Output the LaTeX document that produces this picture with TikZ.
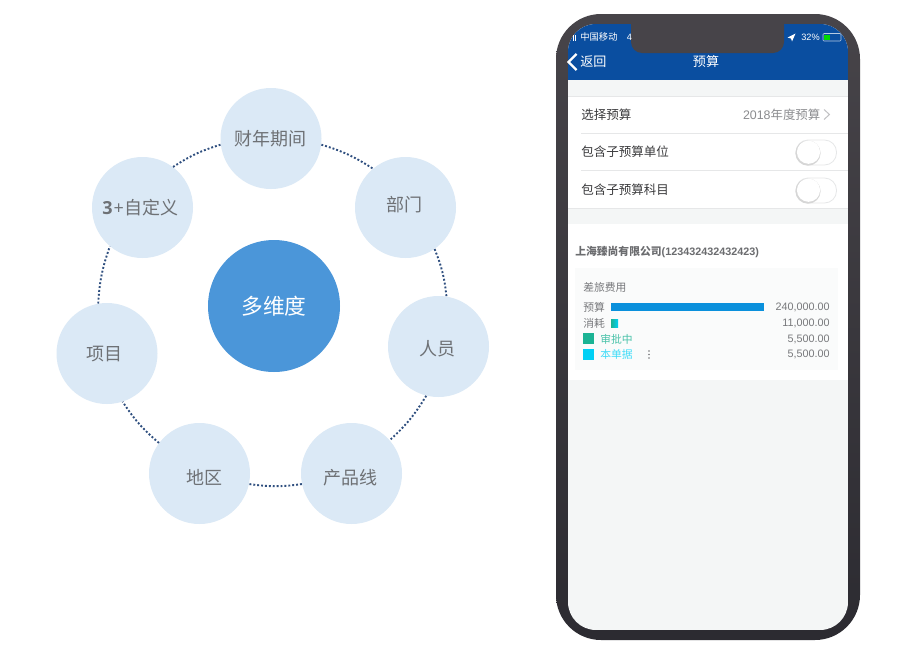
\documentclass[tikz,border=0pt]{standalone}
\usepackage{fontspec}
\setmainfont{Noto Sans CJK SC}
\newfontfamily\lat{Liberation Sans}
\newfontfamily\opn{Open Sans}
\usetikzlibrary{shadings}
\definecolor{ringfill}{HTML}{DBE9F6}
\definecolor{hub}{HTML}{4B96D9}
\definecolor{ringtxt}{HTML}{6E7175}
\definecolor{dots}{HTML}{2F4F7F}
\definecolor{bezeltop}{HTML}{474449}
\definecolor{bezelbot}{HTML}{2C2B31}
\definecolor{navblue}{HTML}{0A4EA0}
\definecolor{screenbg}{HTML}{F4F6F6}
\definecolor{lineg}{HTML}{E6E7E8}
\definecolor{dark}{HTML}{3A3A3C}
\definecolor{midg}{HTML}{77787B}
\definecolor{barblue}{HTML}{0A90DC}
\definecolor{teal}{HTML}{1BB394}
\definecolor{cyanb}{HTML}{00D0F5}
\newlength{\pxu}\setlength{\pxu}{0.75pt}
\tikzset{
 dim/.style={circle,fill=ringfill,minimum size=101\pxu,inner sep=0pt},
 dimtxt/.style={inner sep=0pt,text=ringtxt,font=\fontsize{13.5pt}{14pt}\selectfont},
 link/.style={draw=dots,line width=1.9\pxu,dash pattern=on 1.9\pxu off 2\pxu},
 rowt/.style={anchor=west,inner sep=0pt,text=dark,font=\fontsize{9.4pt}{10pt}\selectfont},
 small/.style={anchor=west,inner sep=0pt,text=midg,font=\fontsize{8.1pt}{9pt}\selectfont},
 val/.style={anchor=east,inner sep=0pt,text=midg,font=\lat\fontsize{8.1pt}{9pt}\selectfont},
 wht/.style={inner sep=0pt,text=white},
 sep/.style={draw=lineg,line width=0.8\pxu},
}
\begin{document}
\begin{tikzpicture}[x=0.75pt,y=-0.75pt]
\useasboundingbox (0,0) rectangle (915,661);
\fill[white] (0,0) rectangle (915,661);
% ring
\node[dim] (top) at (271,138.5) {};
\node[dim] (dept) at (405.5,207.5) {};
\node[dim] (person) at (438.5,346.5) {};
\node[dim] (line) at (351.5,473.5) {};
\node[dim] (area) at (199.5,473.5) {};
\node[dim] (proj) at (107,353.5) {};
\node[dim] (cust) at (142.5,207.5) {};
\node[dimtxt] (toptxt) at (270,139) {财年期间};
\node[dimtxt] (depttxt) at (404,205) {部门};
\node[dimtxt] (persontxt) at (437,349) {人员};
\node[dimtxt] (linetxt) at (350.5,478) {产品线};
\node[dimtxt] (areatxt) at (204,477) {地区};
\node[dimtxt] (projtxt) at (104,354) {项目};
\node[dimtxt] (custtxt) at (140.5,208) {{\opn\bfseries 3}\kern0.8pt{\opn +}\kern0.6pt自定义};
\node[circle,fill=hub,minimum size=132\pxu,inner sep=0pt,text=white,font=\fontsize{16.3pt}{17pt}\selectfont] (hubn) at (274,306) {多维度};
\draw[link] (top.-7) to[bend left=8] (dept.130);
\draw[link] (dept.-55) to[bend left=8] (person.81);
\draw[link] (person.-104.5) to[bend left=8] (line.41);
\draw[link] (line.192) to[bend left=8] (area.-12);
\draw[link] (area.143) to[bend left=8] (proj.-72);
\draw[link] (proj.100) to[bend left=8] (cust.230);
\draw[link] (cust.53) to[bend left=8] (top.187);
% phone
\shade[top color=bezeltop,bottom color=bezelbot,rounded corners=45\pxu] (556,14) rectangle (860,640);
\begin{scope}
\clip[rounded corners=28\pxu] (568,24) rectangle (848,630);
\fill[screenbg] (568,24) rectangle (848,630);
\fill[navblue] (568,24) rectangle (848,80);
\fill[white] (568,96) rectangle (848,208);
\fill[white] (568,224) rectangle (848,380);
\draw[sep] (568,96) -- (848,96);
\draw[sep] (581,133) -- (848,133);
\draw[sep] (581,170.5) -- (848,170.5);
\draw[sep] (568,208) -- (848,208);
\fill[screenbg!45!white] (575,268) rectangle (838,370);
\end{scope}
\fill[bezeltop,rounded corners=11\pxu] (631,14) rectangle (784,53);
\fill[bezeltop] (631,14) rectangle (784,30);
% status bar
\draw[white,line width=0.8\pxu] (573,35) -- (573,41) (575,35) -- (575,41);
\node[wht,anchor=west,font=\fontsize{7pt}{7pt}\selectfont] (carrier) at (580,37) {中国移动};
\node[wht,anchor=west,font=\lat\fontsize{6.9pt}{7pt}\selectfont] (net) at (626.5,37) {4};
\fill[white] (787.5,37.5) -- (795.5,33.5) -- (792,41.5) -- (791,38.5) -- cycle;
\node[wht,anchor=west,font=\lat\fontsize{6.9pt}{7pt}\selectfont] (batt) at (801,37) {32\%};
\draw[white!70!navblue,line width=0.6\pxu,rounded corners=1\pxu] (823,33.5) rectangle (841,41);
\fill[green!85!black] (824,34.5) rectangle (830,40);
% nav
\draw[white,line width=2.2\pxu] (576.5,54) -- (568.5,62) -- (576.5,70);
\node[wht,anchor=west,font=\fontsize{9.8pt}{10pt}\selectfont] (back) at (580,62) {返回};
\node[wht,font=\fontsize{9.8pt}{10pt}\selectfont] (title) at (706,62) {预算};
% rows
\node[rowt] (r1) at (581,114.5) {选择预算};
\node[anchor=east,inner sep=0pt,text=midg!85,font=\fontsize{9.3pt}{10pt}\selectfont] (r1v) at (820.5,114.5) {{\lat 2018}年度预算};
\draw[midg!45,line width=1\pxu] (824,109.5) -- (829.5,114.5) -- (824,119.5);
\node[rowt] (r2) at (581,152) {包含子预算单位};
\node[rowt] (r3) at (581,189.5) {包含子预算科目};
\foreach \yy/\nm in {152.5/tga,190.5/tgb}{
  \draw[lineg,fill=white,line width=0.8\pxu,rounded corners=12\pxu] (796,\yy-12.5) rectangle (836.5,\yy+12.5);
  \fill[black!16] (808,\yy+0.6) circle[radius=12.6];
  \fill[white] (808.5,\yy-0.3) circle[radius=11.6];
}
% card
\node[anchor=west,inner sep=0pt,text=midg!90!black,font=\fontsize{8.1pt}{9pt}\selectfont] (comp) at (575,252) {\bfseries 上海臻尚有限公司{\lat\bfseries (123432432432423)}};
\node[small] (c0) at (583,287) {差旅费用};
\node[small] (c1) at (583,307) {预算};
\fill[barblue] (611,303) rectangle (764,311);
\node[val] (v1) at (830,307.5) {240,000.00};
\node[small] (c2) at (583,323) {消耗};
\shade[left color=teal,right color=cyanb] (611,319) rectangle (618,327);
\node[val] (v2) at (830,323.5) {11,000.00};
\fill[teal] (583,333) rectangle (594,344);
\node[small,text=teal!80!white] (c3) at (600,339) {审批中};
\node[val] (v3) at (830,339) {5,500.00};
\fill[cyanb] (583,349) rectangle (594,360);
\node[small,text=cyanb!75!white] (c4) at (600,354.5) {本单据};
\node[val] (v4) at (830,354.5) {5,500.00};
\foreach \yy in {351,354.5,358}{\fill[midg] (649,\yy) circle[radius=0.9];}
\end{tikzpicture}
\end{document}
